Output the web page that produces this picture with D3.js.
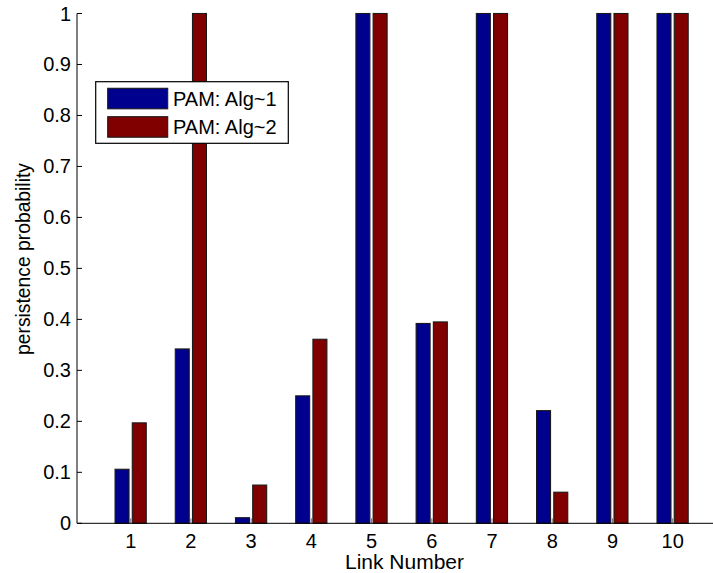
<!DOCTYPE html>
<html>
<head>
<meta charset="utf-8">
<script src="https://cdn.jsdelivr.net/npm/d3@7"></script>
<style>
  html, body { margin: 0; padding: 0; background: #fff; }
  svg { display: block; font-family: "Liberation Sans", Arial, sans-serif; }
</style>
</head>
<body>
<svg id="chart" width="713" height="573"></svg>
<script>
// ---- data ----
const categories = [1, 2, 3, 4, 5, 6, 7, 8, 9, 10];
const alg1 = [0.106, 0.342, 0.011, 0.250, 1, 0.392, 1, 0.221, 1, 1];
const alg2 = [0.197, 1, 0.075, 0.361, 1, 0.395, 1, 0.061, 1, 1];
const seriesNames = ["PAM: Alg~1", "PAM: Alg~2"];
const seriesColors = ["#00008F", "#800000"];
const yTicks = [0, 0.1, 0.2, 0.3, 0.4, 0.5, 0.6, 0.7, 0.8, 0.9, 1];
const xTicks = categories;

// ---- layout ----
const svg = d3.select("#chart");
const pLeft = 77, pRight = 713, pTop = 13.5, pBottom = 523.3;

const x = d3.scaleLinear().domain([0.108, 10.67]).range([pLeft, pRight]);
const y = d3.scaleLinear().domain([0, 1]).range([pBottom, pTop]);

const barW = 0.232;
const offsets = [-0.144, 0.142];

// ticks (inward)
const gTicks = svg.append("g");
gTicks.selectAll("line.yt").data(yTicks).enter().append("line")
  .attr("x1", pLeft).attr("x2", pLeft + 5)
  .attr("y1", d => y(d)).attr("y2", d => y(d))
  .attr("stroke", "#000").attr("stroke-width", 1);
gTicks.selectAll("line.xt").data(xTicks).enter().append("line")
  .attr("x1", d => x(d)).attr("x2", d => x(d))
  .attr("y1", pBottom).attr("y2", pBottom - 5)
  .attr("stroke", "#777").attr("stroke-width", 1);

// bars
const series = [alg1, alg2];
series.forEach((vals, si) => {
  svg.append("g").selectAll("rect").data(categories).enter().append("rect")
    .attr("x", (d) => x(d + offsets[si] - barW / 2))
    .attr("width", (d) => x(d + offsets[si] + barW / 2) - x(d + offsets[si] - barW / 2))
    .attr("y", (d, i) => y(vals[i]))
    .attr("height", (d, i) => y(0) - y(vals[i]))
    .attr("fill", seriesColors[si])
    .attr("stroke", "#1a1a1a")
    .attr("stroke-width", 1.1);
});

// axis lines
svg.append("line").attr("x1", pLeft).attr("x2", pLeft).attr("y1", pTop).attr("y2", pBottom)
  .attr("stroke", "#000").attr("stroke-width", 1);
svg.append("line").attr("x1", pLeft).attr("x2", pRight).attr("y1", pBottom).attr("y2", pBottom)
  .attr("stroke", "#000").attr("stroke-width", 1);

// tick labels
svg.append("g").selectAll("text").data(yTicks).enter().append("text")
  .attr("x", 71).attr("y", d => y(d) + 7)
  .attr("text-anchor", "end").attr("font-size", 20).attr("fill", "#000")
  .text(d => String(+d.toFixed(1)));
svg.append("g").selectAll("text").data(xTicks).enter().append("text")
  .attr("x", d => x(d)).attr("y", 548)
  .attr("text-anchor", "middle").attr("font-size", 20).attr("fill", "#000")
  .text(d => d);

// axis titles
svg.append("text").attr("x", 404.5).attr("y", 569)
  .attr("text-anchor", "middle").attr("font-size", 21).text("Link Number");
svg.append("text")
  .attr("transform", `translate(29.5, 259) rotate(-90)`)
  .attr("text-anchor", "middle").attr("font-size", 19.3).text("persistence probability");

// legend
const lg = svg.append("g");
lg.append("rect").attr("x", 95.7).attr("y", 81.7).attr("width", 192.6).attr("height", 61.6)
  .attr("fill", "#fff").attr("stroke", "#000").attr("stroke-width", 1.2);
seriesNames.forEach((name, i) => {
  lg.append("rect").attr("x", 107.7).attr("y", 88.3 + i * 28.4).attr("width", 60).attr("height", 20.5)
    .attr("fill", seriesColors[i]).attr("stroke", "#1a1a1a").attr("stroke-width", 1.1);
  lg.append("text").attr("x", 173).attr("y", 106 + i * 28.4)
    .attr("font-size", 20).attr("fill", "#000").text(name);
});
</script>
</body>
</html>
